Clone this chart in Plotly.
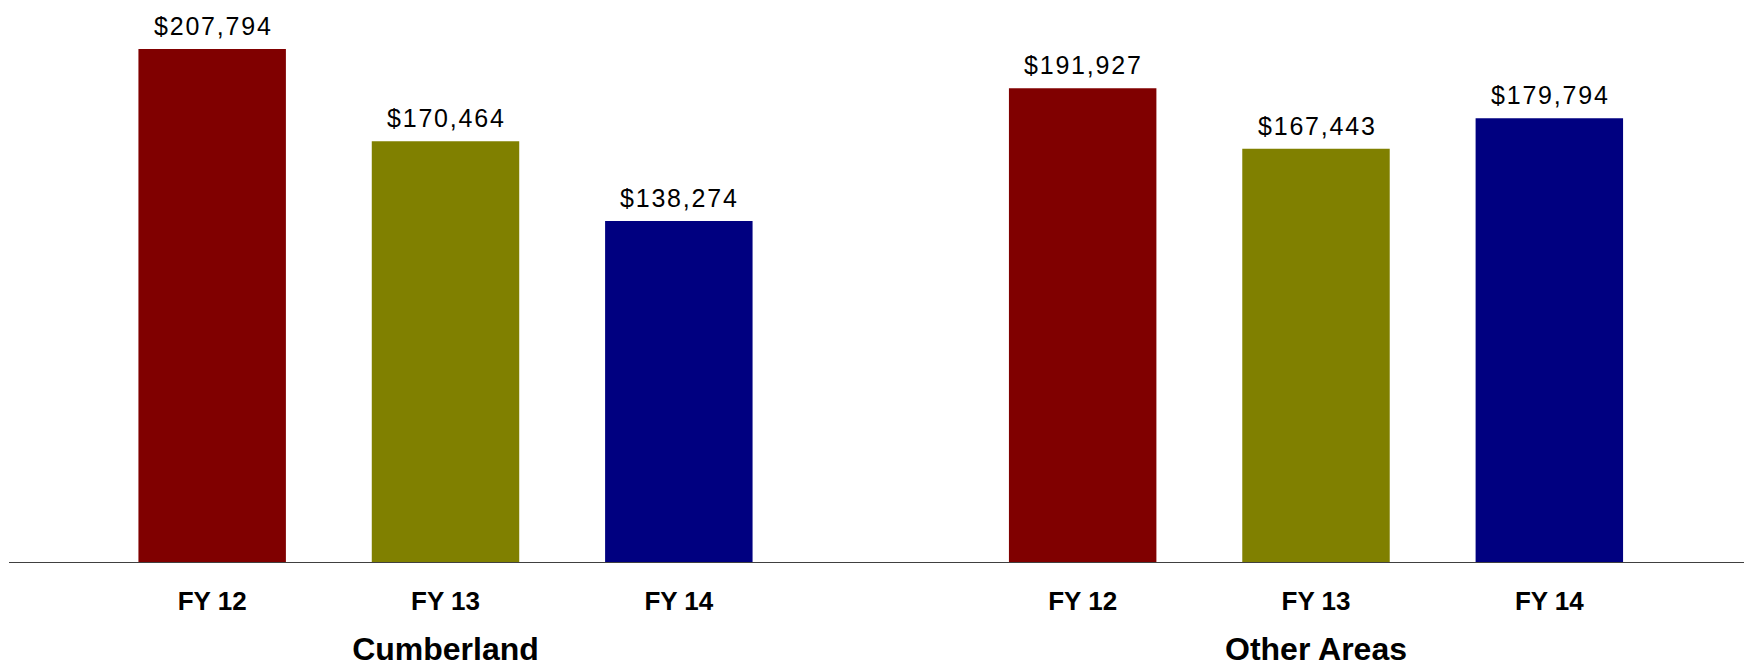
import plotly.graph_objects as go

# ---- data ----
years = ["FY 12", "FY 13", "FY 14"]
groups = ["Cumberland", "Other Areas"]
cumberland = [207794, 170464, 138274]
other_areas = [191927, 167443, 179794]
bar_colors = ["#800000", "#808000", "#000080"]

# page body has an 8px margin, so the figure is drawn 8px smaller
OFF = 8
W, H = 1752 - OFF, 667 - OFF
FONT = "Liberation Sans, Arial, sans-serif"

fig = go.Figure()
series = [cumberland, other_areas]
axes = ["x", "x2"]
for name, vals, xa in zip(groups, series, axes):
    fig.add_trace(go.Bar(
        x=years, y=vals, xaxis=xa, yaxis="y", name=name,
        marker=dict(color=bar_colors, line=dict(width=0)),
        showlegend=False, hoverinfo="x+y",
    ))
    for yr, v in zip(years, vals):
        fig.add_annotation(
            x=yr, y=v, xref=xa, yref="y",
            text=f'<span style="letter-spacing:1.8px">${v:,}</span>',
            showarrow=False, yanchor="bottom", xanchor="center", yshift=7, xshift=1,
            font=dict(family=FONT, size=25, color="#000000"),
        )

axis_common = dict(
    type="category", range=[-0.5, 2.5], showline=False, showgrid=False,
    zeroline=False, ticks="", fixedrange=True, automargin=False,
    tickfont=dict(family=FONT, size=26, color="#000000", weight="bold"),
    title_font=dict(family=FONT, size=32, color="#000000", weight="bold"),
    ticklabelstandoff=20,
)

fig.update_layout(
    width=W, height=H,
    margin=dict(l=0, r=0, t=0, b=104, pad=0),
    paper_bgcolor="white", plot_bgcolor="white",
    bargap=0.368,
    xaxis=dict(domain=[(95.5 - OFF) / W, (795.5 - OFF) / W],
               title=dict(text=groups[0], standoff=26), **axis_common),
    xaxis2=dict(domain=[(966 - OFF) / W, (1666 - OFF) / W], anchor="y",
                title=dict(text=groups[1], standoff=26), **axis_common),
    yaxis=dict(range=[0, 224370], visible=False, fixedrange=True, showgrid=False, zeroline=False),
    shapes=[dict(type="line", xref="paper", yref="y", x0=(9 - OFF) / W, x1=(1750 - OFF) / W, y0=0, y1=0,
                 line=dict(color="#404040", width=2), layer="above")],
)

fig.write_html("out.html")
